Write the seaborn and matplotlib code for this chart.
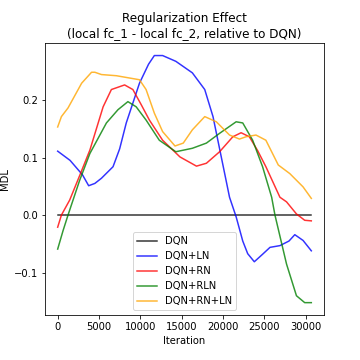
import numpy as np
import pandas as pd
import matplotlib
matplotlib.use("Agg")
import matplotlib.pyplot as plt
import seaborn as sns

# values
dqn_x = [0, 30700]
dqn_y = [0.0, 0.0]

ln_x = [0, 1500, 3000, 3750, 4500, 5300, 6700, 7500, 8300, 9900, 11000, 11700, 12700, 14300, 16300,
        17800, 18800, 19800, 20800, 21600, 22400, 23000, 23800, 24800, 25700, 26900, 28000, 28700, 29700, 30700]
ln_y = [0.111, 0.095, 0.070, 0.051, 0.055, 0.064, 0.084, 0.115, 0.160, 0.229, 0.262, 0.277, 0.277, 0.267, 0.247,
        0.218, 0.171, 0.101, 0.031, -0.003, -0.045, -0.067, -0.081, -0.068, -0.056, -0.053, -0.045, -0.034, -0.044, -0.062]

rn_x = [0, 450, 1450, 2700, 3900, 5500, 6500, 8100, 9100, 10100, 11100, 12700, 14800, 16800,
        18000, 19600, 21200, 22200, 23200, 24200, 25200, 26900, 27700, 28900, 29900, 30700]
rn_y = [-0.021, 0.0, 0.026, 0.070, 0.113, 0.188, 0.218, 0.226, 0.218, 0.192, 0.165, 0.130, 0.101, 0.085,
        0.090, 0.110, 0.136, 0.143, 0.136, 0.112, 0.084, 0.031, 0.023, 0.002, -0.009, -0.010]

rln_x = [0, 650, 1250, 2650, 3900, 5900, 7300, 8500, 9500, 10700, 12300, 14300, 16300,
         18000, 19600, 21600, 22400, 23600, 24800, 25900, 26300, 27700, 28900, 29900, 30700]
rln_y = [-0.059, -0.027, 0.0, 0.060, 0.107, 0.160, 0.183, 0.197, 0.188, 0.165, 0.130, 0.110, 0.116,
         0.125, 0.142, 0.162, 0.160, 0.130, 0.084, 0.031, 0.0, -0.085, -0.140, -0.152, -0.152]

rnln_x = [0, 450, 1250, 2900, 4100, 4500, 5300, 7100, 8700, 9900, 10700, 11700, 12700, 14200,
          15200, 16300, 17800, 19200, 20800, 22000, 22800, 24000, 25200, 26700, 28100, 29700, 30700]
rnln_y = [0.153, 0.171, 0.186, 0.229, 0.248, 0.248, 0.244, 0.242, 0.238, 0.235, 0.218, 0.177, 0.145, 0.120,
          0.125, 0.148, 0.171, 0.162, 0.139, 0.132, 0.136, 0.139, 0.130, 0.087, 0.072, 0.049, 0.029]

names = ["DQN", "DQN+LN", "DQN+RN", "DQN+RLN", "DQN+RN+LN"]
colors = ["black", "blue", "red", "green", "orange"]
xs = [dqn_x, ln_x, rn_x, rln_x, rnln_x]
ys = [dqn_y, ln_y, rn_y, rln_y, rnln_y]

df = pd.concat([pd.DataFrame({"Iteration": x, "MDL": y, "model": n})
                for x, y, n in zip(xs, ys, names)], ignore_index=True)

fig = plt.figure(figsize=(5, 5), dpi=72)
ax = fig.add_axes([0.125, 0.125, 0.775, 0.755])
sns.lineplot(data=df, x="Iteration", y="MDL", hue="model", hue_order=names,
             palette=dict(zip(names, colors)), alpha=0.8, linewidth=1.5,
             estimator=None, sort=False, ax=ax)
ax.set_title("Regularization Effect\n(local fc_1 - local fc_2, relative to DQN)")
ax.set_xticks([0, 5000, 10000, 15000, 20000, 25000, 30000])
ax.set_yticks([-0.1, 0.0, 0.1, 0.2])
ax.legend(loc="lower center", title=None)
fig.savefig("out.png", dpi=72)
